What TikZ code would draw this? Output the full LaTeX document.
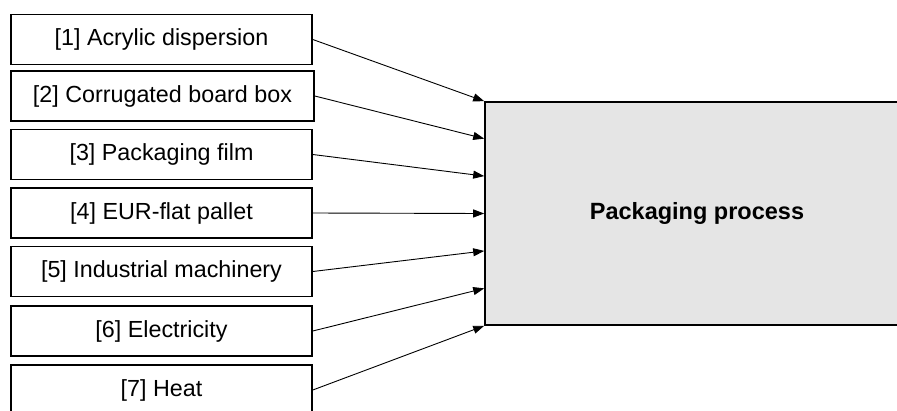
\documentclass[tikz,border=0pt]{standalone}
\usepackage{fontspec}
\setmainfont{Liberation Sans}
\usetikzlibrary{arrows.meta, calc}

\tikzset{
  inbox/.style={draw, line width=1.6pt, minimum width=301pt, minimum height=50pt,
    inner sep=0pt, font=\fontsize{23.3}{28}\selectfont},
  procbox/.style={draw, line width=1.6pt, fill=black!10, minimum width=424pt,
    minimum height=223pt, inner sep=0pt, font=\bfseries\fontsize{23.5}{28}\selectfont},
  feed/.style={-{Triangle[length=11pt,width=8pt]}, line width=0.9pt}
}

\begin{document}
\begin{tikzpicture}[x=1pt,y=-1pt]
    \useasboundingbox (0,0) rectangle (897,410);
    \clip (0,0) rectangle (897,410);
    % inputs
    \node[inbox] (acrylic) at (161.5,39.5) {[1] Acrylic dispersion};
    \node[inbox, minimum width=303pt] (cardbox) at (162.5,96) {[2] Corrugated board box};
    \node[inbox] (film) at (161.5,154.5) {[3] Packaging film};
    \node[inbox] (pallet) at (161.5,213) {[4] EUR-flat pallet};
    \node[inbox] (machinery) at (161.5,271.5) {[5] Industrial machinery};
    \node[inbox] (electricity) at (161.5,331) {[6] Electricity};
    \node[inbox] (heat) at (161.5,390) {[7] Heat};
    % process
    \node[procbox] (proc) at (697,213.5) {Packaging process};
    \draw[feed] (acrylic.east) -- ($(proc.north west)!0/6!(proc.south west)$);
    \draw[feed] (cardbox.east) -- ($(proc.north west)!1/6!(proc.south west)$);
    \draw[feed] (film.east) -- ($(proc.north west)!2/6!(proc.south west)$);
    \draw[feed] (pallet.east) -- ($(proc.north west)!3/6!(proc.south west)$);
    \draw[feed] (machinery.east) -- ($(proc.north west)!4/6!(proc.south west)$);
    \draw[feed] (electricity.east) -- ($(proc.north west)!5/6!(proc.south west)$);
    \draw[feed] (heat.east) -- ($(proc.north west)!6/6!(proc.south west)$);
\end{tikzpicture}
\end{document}
